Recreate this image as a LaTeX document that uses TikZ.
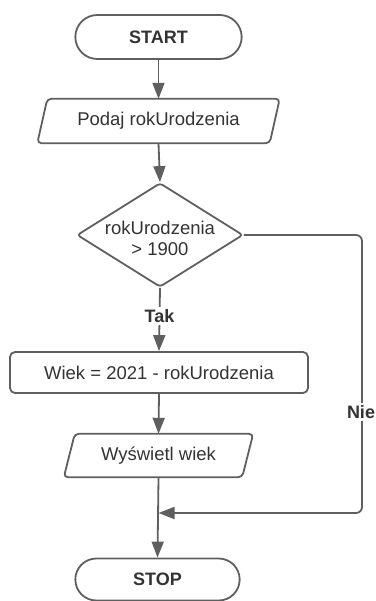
\documentclass[tikz,border=0pt]{standalone}
\usepackage{fontspec}
\setmainfont{Liberation Sans}
\usetikzlibrary{shapes.geometric,shapes.misc,arrows.meta,calc}
\definecolor{ln}{HTML}{5F5F5F}
\definecolor{tx}{HTML}{333333}
\begin{document}
\begin{tikzpicture}[x=1pt,y=-1pt,
  txt/.style={text=tx, font=\fontsize{18.5}{21}\selectfont},
  btxt/.style={text=tx, font=\bfseries\fontsize{18}{21}\selectfont},
  term/.style={rounded rectangle, draw=ln, line width=1.8pt, btxt},
  procbox/.style={rectangle, draw=ln, line width=1.8pt, rounded corners=5pt, txt},
  frame/.style={rectangle, inner sep=0pt, txt},
  io/.style={draw=ln, line width=1.8pt, rounded corners=4pt, line join=round},
  decision/.style={diamond, draw=ln, line width=1.8pt, rounded corners=3pt, inner sep=0pt},
  conn/.style={draw=ln, line width=1.8pt, -{Triangle[length=16pt,width=12pt]}},
  lbl/.style={fill=white, inner sep=2.5pt, btxt}
]
\useasboundingbox (0,0) rectangle (375,601);

\node[term, minimum width=173pt, minimum height=44pt] (start) at (158.5,37) {START};

\node[frame, minimum width=242pt, minimum height=44pt] (in) at (158.5,121) {Podaj rokUrodzenia};
\draw[io] ($(in.north west)+(10,0)$) -- (in.north east) -- ($(in.south east)+(-10,0)$) -- (in.south west) -- cycle;

\node[decision, minimum width=166pt, minimum height=104pt] (dec) at (160,235) {};
\node[txt, align=center, inner sep=0pt] (dectext) at (160,238) {rokUrodzenia\\> 1900};

\node[procbox, minimum width=298pt, minimum height=41pt] (wiek) at (159,372.5) {Wiek = 2021 - rokUrodzenia};

\node[frame, minimum width=189pt, minimum height=43pt] (out) at (158.5,455.5) {Wyświetl wiek};
\draw[io] ($(out.north west)+(11,0)$) -- (out.north east) -- ($(out.south east)+(-11,0)$) -- (out.south west) -- cycle;

\node[term, minimum width=171pt, minimum height=42pt] (stop) at (157.5,579.5) {STOP};

\coordinate (c1) at (362,235);
\coordinate (c2) at (362,513);
\coordinate (m) at (158.5,513);

\draw[conn] (start.south) -- (in.north);
\draw[conn] (in.south) -- (dec.north);
\draw[conn] (dec.south) -- node[lbl, pos=0.45] (tak) {Tak} (wiek.north);
\draw[conn] (wiek.south) -- (out.north);
\draw[conn] (out.south) -- (stop.north);
\draw[conn, rounded corners=6pt] (dec.east) -- (c1) -- (c2) -- (m);
\node[lbl] (nie) at (361,412) {Nie};
\end{tikzpicture}
\end{document}
